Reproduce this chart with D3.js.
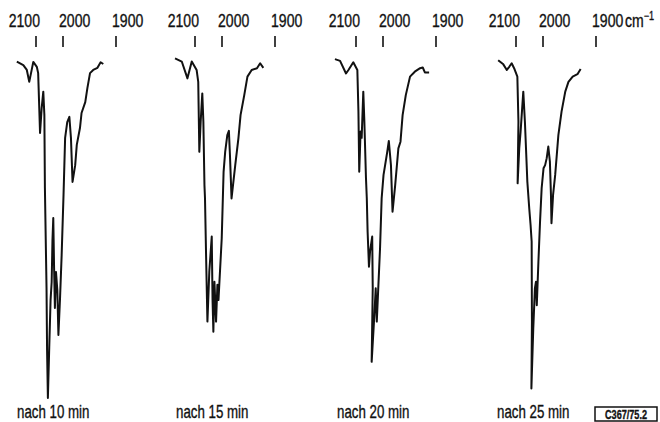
<!DOCTYPE html>
<html>
<head>
<meta charset="utf-8">
<script src="https://cdn.jsdelivr.net/npm/d3@7/dist/d3.min.js"></script>
<style>
  body { margin: 0; background: #fff; }
  text { font-family: "Liberation Sans", "DejaVu Sans", sans-serif; fill: #111; stroke: #111; stroke-width: 0.35; }
</style>
</head>
<body>
<div id="chart"></div>
<script>
// IR spectra, nu(CO) region, four times
var wavenumberTicks = [2100, 2000, 1900];
var timeLabels = ["nach 10 min", "nach 15 min", "nach 20 min", "nach 25 min"];
var unitLabel = "cm";
var refLabel = "C367/75.2";

// [wavenumber cm-1, transmission %]
var spectrum10 = [[2171,96.7],[2147,95.7],[2134,94.3],[2125,90.9],[2110,96.6],[2097,95.2],[2092,93.4],[2085,76.3],
  [2079,83.4],[2073,88.1],[2069,81.4],[2067,60.6],[2061,32],[2059,14.3],[2056,0.6],[2051,14.9],[2046,28.6],
  [2042,33.7],[2039,45.7],[2036,52],[2033,37.7],[2030,26.3],[2026,36.6],[2021,31.4],[2017,18.6],[2011,29.1],
  [2005,41.4],[1999,58.6],[1996,74.9],[1992,79.4],[1988,80.9],[1985,74.9],[1982,62.3],[1977,67.1],[1974,72.9],
  [1968,77.7],[1965,82],[1958,85.1],[1954,89.1],[1949,93.4],[1943,94.3],[1935,94.9],[1929,96.5],[1924,96]];

var spectrum15 = [[2174,97.6],[2149,96.7],[2128,91.9],[2112,96.7],[2094,94.3],[2088,90.9],[2084,70.9],[2079,79.5],
  [2073,87.6],[2069,79.5],[2065,61.4],[2063,57.7],[2059,41.4],[2054,22.4],[2047,36.7],[2038,46.7],[2035,28.6],
  [2032,19.5],[2028,33.8],[2022,22.4],[2017,32.9],[2013,28.6],[2001,46.2],[1997,65.2],[1994,70.9],[1990,75.7],
  [1987,76.9],[1985,70],[1982,57.6],[1975,67.1],[1969,74.8],[1965,81.4],[1958,87.1],[1952,92.4],[1944,94.3],
  [1934,94.8],[1928,96.2],[1922,94.9]];

var spectrum20 = [[2178,97.4],[2159,96.9],[2137,93.3],[2128,94.3],[2110,96.5],[2095,94.3],[2091,82.4],[2088,65.2],
  [2083,76.7],[2079,74.9],[2073,88.1],[2069,79.5],[2063,63.3],[2060,57.6],[2057,48.1],[2052,38.1],[2048,42.4],
  [2040,46.7],[2038,32],[2042,10.9],[2032,24.3],[2027,31.9],[2023,22.4],[2017,32.9],[2011,43.3],[2005,57.6],
  [1999,64.3],[1996,67.1],[1992,70.9],[1989,74],[1985,67.1],[1982,53.8],[1977,61.4],[1971,71.9],[1967,73.8],
  [1963,81.4],[1957,87.1],[1949,92.4],[1940,93.8],[1930,94.8],[1925,95],[1921,93.6],[1913,93.6]];

var spectrum25 = [[2166,97.1],[2147,95.9],[2134,94.3],[2125,95.2],[2116,96.2],[2107,94.8],[2095,92.4],[2091,79.5],
  [2094,61.9],[2088,71.9],[2083,76.7],[2073,88.1],[2067,79.5],[2060,66.2],[2058,62.4],[2051,54.8],[2046,50],
  [2042,45.2],[2041,22.4],[2043,3.3],[2036,20.5],[2030,31.9],[2026,33.8],[2023,27.1],[2017,39.5],[2011,50.9],
  [2005,60.5],[1999,66.2],[1996,67.1],[1993,69.1],[1990,72.4],[1987,68.1],[1985,58.6],[1984,50.5],[1981,58.6],
  [1977,64.3],[1971,75.7],[1965,82.4],[1958,88.1],[1952,90.9],[1944,92.4],[1935,93.1],[1929,94.6]];

var spectra = [spectrum10, spectrum15, spectrum20, spectrum25];

var width = 660, height = 422;
var panelLeft = [0, 159, 320, 480];
var squeeze = 0.76; // the scan uses a narrow typeface

var svg = d3.select("#chart").append("svg")
  .attr("width", width)
  .attr("height", height);

var y = d3.scaleLinear().domain([0, 100]).range([400, 50]);

function narrowText(sel, px, py, size) {
  return sel.append("text")
    .attr("transform", "translate(" + px + "," + py + ") scale(" + squeeze + ",1)")
    .attr("font-size", size);
}

spectra.forEach(function(data, i) {
  // the spectrometer doubles the scale below 2000 cm-1
  var x = d3.scaleLinear()
    .domain([2100, 2000, 1900])
    .range([36, 63, 116].map(function(v) { return v + panelLeft[i]; }));

  var g = svg.append("g");

  g.selectAll("line.tick").data(wavenumberTicks)
    .enter().append("line")
    .attr("x1", function(d) { return x(d); })
    .attr("x2", function(d) { return x(d); })
    .attr("y1", 36).attr("y2", 47)
    .attr("stroke", "#111")
    .attr("stroke-width", 1.6);

  wavenumberTicks.forEach(function(d, j) {
    narrowText(g, x(d) + (j === 0 ? 4 : -4), 27, 18.5)
      .attr("text-anchor", j === 0 ? "end" : "start")
      .text(d);
  });

  var line = d3.line()
    .x(function(d) { return x(d[0]); })
    .y(function(d) { return y(d[1]); });

  g.append("path")
    .datum(data)
    .attr("d", line)
    .attr("fill", "none")
    .attr("stroke", "#111")
    .attr("stroke-width", 2)
    .attr("stroke-linejoin", "round");

  narrowText(g, panelLeft[i] + 17, 418, 17.5)
    .text(timeLabels[i]);

  if (i === 3) {
    var u = narrowText(g, x(1900) + 29, 27, 18.5)
      .text(unitLabel);
    u.append("tspan")
      .attr("dy", -7)
      .attr("font-size", 12)
      .text("\u22121");
  }
});

// reference number box, bottom right
svg.append("rect")
  .attr("x", 595).attr("y", 407)
  .attr("width", 62).attr("height", 14)
  .attr("fill", "none")
  .attr("stroke", "#111")
  .attr("stroke-width", 1.5);

narrowText(svg, 626, 418.5, 12)
  .attr("text-anchor", "middle")
  .attr("font-weight", "bold")
  .text(refLabel);
</script>
</body>
</html>
